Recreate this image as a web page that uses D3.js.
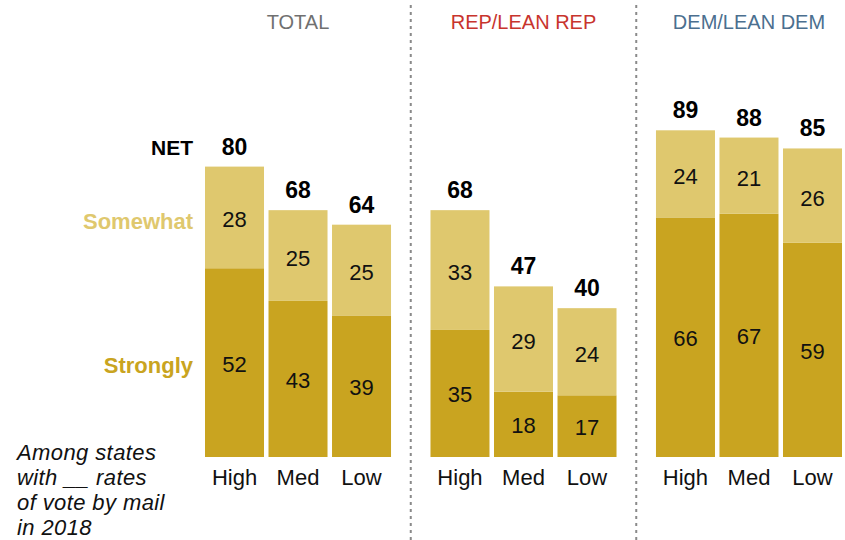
<!DOCTYPE html>
<html><head><meta charset="utf-8">
<script src="https://cdn.jsdelivr.net/npm/d3@7"></script>
<style>body{margin:0;background:#fff;} text{font-family:"Liberation Sans",Arial,sans-serif;}</style>
</head><body><svg id="c" width="845" height="540"></svg>
<script>
const groups = ["TOTAL", "REP/LEAN REP", "DEM/LEAN DEM"];
const groupColors = ["#707070", "#c8342d", "#4b6f8f"];
const categories = ["High", "Med", "Low"];
const strongly = [[52, 43, 39], [35, 18, 17], [66, 67, 59]];
const somewhat = [[28, 25, 25], [33, 29, 24], [24, 21, 26]];
const net = [[80, 68, 64], [68, 47, 40], [89, 88, 85]];
const noteLines = ["Among states", "with __ rates", "of vote by mail", "in 2018"];
const darkGold = "#c9a420", lightGold = "#dfc86e";

const svg = d3.select("#c");
const gx = d3.scaleBand().domain(groups).range([205, 842]).paddingInner(0.175).paddingOuter(0);
const cx = d3.scaleBand().domain(categories).range([0, gx.bandwidth()]).paddingInner(0.071).paddingOuter(0);
const y = d3.scaleLinear().domain([0, 100]).range([457, 94]);

// dividers
for (let i = 1; i < groups.length; i++) {
  const xm = (gx(groups[i - 1]) + gx.bandwidth() + gx(groups[i])) / 2;
  svg.append("line").attr("x1", xm).attr("x2", xm).attr("y1", 5).attr("y2", 540)
    .attr("stroke", "#8a8a8a").attr("stroke-width", 2).attr("stroke-dasharray", "3,4");
}

groups.forEach((g, gi) => {
  const gg = svg.append("g").attr("transform", `translate(${gx(g)},0)`);
  gg.append("text").attr("x", gx.bandwidth() / 2).attr("y", 29).attr("text-anchor", "middle")
    .attr("font-size", 20).attr("fill", groupColors[gi]).text(g);
  categories.forEach((c, ci) => {
    const s = strongly[gi][ci], w = somewhat[gi][ci];
    const x0 = cx(c), bw = cx.bandwidth();
    gg.append("rect").attr("x", x0).attr("width", bw).attr("y", y(s)).attr("height", y(0) - y(s)).attr("fill", darkGold);
    gg.append("rect").attr("x", x0).attr("width", bw).attr("y", y(s + w)).attr("height", y(s) - y(s + w)).attr("fill", lightGold);
    gg.append("text").attr("x", x0 + bw / 2).attr("y", (y(0) + y(s)) / 2 + 9).attr("text-anchor", "middle")
      .attr("font-size", 22).attr("fill", "#111").text(s);
    gg.append("text").attr("x", x0 + bw / 2).attr("y", (y(s) + y(s + w)) / 2 + 10).attr("text-anchor", "middle")
      .attr("font-size", 22).attr("fill", "#111").text(w);
    gg.append("text").attr("x", x0 + bw / 2).attr("y", y(s + w) - 12).attr("text-anchor", "middle")
      .attr("font-size", 23).attr("font-weight", "bold").attr("fill", "#000").text(net[gi][ci]);
    gg.append("text").attr("x", x0 + bw / 2).attr("y", 485).attr("text-anchor", "middle")
      .attr("font-size", 22).attr("fill", "#111").text(c);
  });
});

// row labels (aligned to first bar of TOTAL)
const s0 = strongly[0][0], w0 = somewhat[0][0];
const lx = gx(groups[0]) - 12;
svg.append("text").attr("x", lx).attr("y", y(s0 + w0) - 12).attr("text-anchor", "end")
  .attr("font-size", 21).attr("font-weight", "bold").attr("fill", "#000").text("NET");
svg.append("text").attr("x", lx).attr("y", (y(s0) + y(s0 + w0)) / 2 + 12)
  .attr("text-anchor", "end").attr("font-size", 22).attr("font-weight", "bold").attr("fill", lightGold).text("Somewhat");
svg.append("text").attr("x", lx).attr("y", (y(0) + y(s0)) / 2 + 10)
  .attr("text-anchor", "end").attr("font-size", 22).attr("font-weight", "bold").attr("fill", darkGold).text("Strongly");

// note
svg.append("text").attr("font-size", 22).attr("font-style", "italic").attr("fill", "#111").attr("letter-spacing", 0.4)
  .selectAll("tspan").data(noteLines).join("tspan")
  .attr("x", 17).attr("y", (d, i) => 460 + i * 25).text(d => d);
</script></body></html>
